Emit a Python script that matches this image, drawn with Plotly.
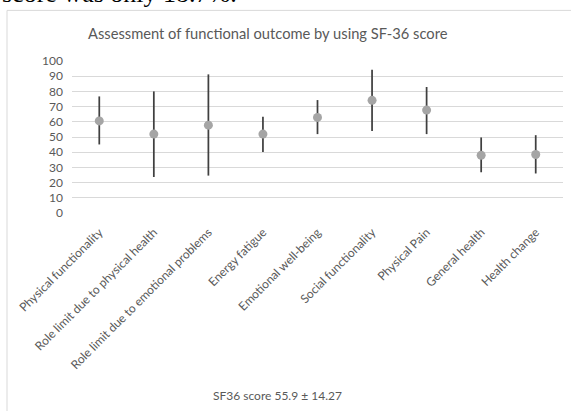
import plotly.graph_objects as go

categories = ["Physical functionality", "Role limit due to physical health",
              "Role limit due to emotional problems", "Energy fatigue",
              "Emotional well-being", "Social functionality", "Physical Pain",
              "General health", "Health change"]
means = [60.6, 51.9, 57.8, 51.9, 62.9, 74.1, 67.7, 38.0, 38.5]
upper = [76.7, 80.0, 91.2, 63.3, 74.3, 94.3, 82.9, 49.7, 51.2]
lower = [45.1, 23.7, 24.6, 40.2, 51.9, 53.9, 51.9, 26.8, 26.0]
y_ticks = list(range(0, 101, 10))

err_plus = [u - m for u, m in zip(upper, means)]
err_minus = [m - l for m, l in zip(means, lower)]

W, H = 571, 411
L, R, T, B = 72, 8, 61, 198.3
PW = W - L - R
PH = H - T - B

def px(x):
    return (x - L) / PW

def py(y):
    return (H - B - y) / PH

fig = go.Figure()
fig.add_trace(go.Scatter(
    x=categories, y=means, mode="markers",
    marker=dict(color="#a5a5a5", size=9),
    error_y=dict(type="data", symmetric=False, array=err_plus, arrayminus=err_minus,
                 color="#404040", thickness=1.75, width=0),
    showlegend=False, hoverinfo="skip",
))

fig.update_layout(
    width=W, height=H,
    margin=dict(l=L, r=R, t=T, b=B, autoexpand=False),
    paper_bgcolor="white", plot_bgcolor="white",
    font=dict(family="Lato", color="#595959", size=12),
    xaxis=dict(range=[-0.5, 8.5], tickangle=-45, showgrid=False, showline=False,
               zeroline=False, ticks="", automargin=False, ticklabelstandoff=9,
               tickfont=dict(size=12, color="#595959")),
    yaxis=dict(range=[0, 100], tickvals=y_ticks, showgrid=True, gridcolor="#d9d9d9",
               gridwidth=1, zeroline=False, showline=False, ticks="", automargin=False,
               ticklabelstandoff=8, tickfont=dict(size=12, color="#595959")),
    shapes=[
        dict(type="line", xref="paper", yref="paper", x0=px(7), x1=px(580), y0=py(10.5), y1=py(10.5),
             line=dict(color="#d9d9d9", width=1)),
        dict(type="line", xref="paper", yref="paper", x0=px(7), x1=px(7), y0=py(10.5), y1=py(420),
             line=dict(color="#d9d9d9", width=1)),
    ],
    annotations=[
        dict(text="Assessment of functional outcome by using SF-36 score", xref="paper", yref="paper",
             x=px(268), y=py(33), xanchor="center", yanchor="middle", showarrow=False,
             font=dict(family="Lato", size=14.7, color="#595959")),
        dict(text="SF36 score 55.9 ± 14.27", xref="paper", yref="paper",
             x=px(277), y=py(395), xanchor="center", yanchor="middle", showarrow=False,
             font=dict(family="Lato", size=12, color="#595959")),
        dict(text="score was only 18.7%.", xref="paper", yref="paper",
             x=px(0), y=py(10), xanchor="left", yanchor="bottom", showarrow=False,
             font=dict(family="Liberation Serif", size=26, color="black")),
    ],
)

fig.write_html("out.html", config={"displayModeBar": False},
               post_script="document.body.style.margin='0';document.body.style.overflow='hidden';")
